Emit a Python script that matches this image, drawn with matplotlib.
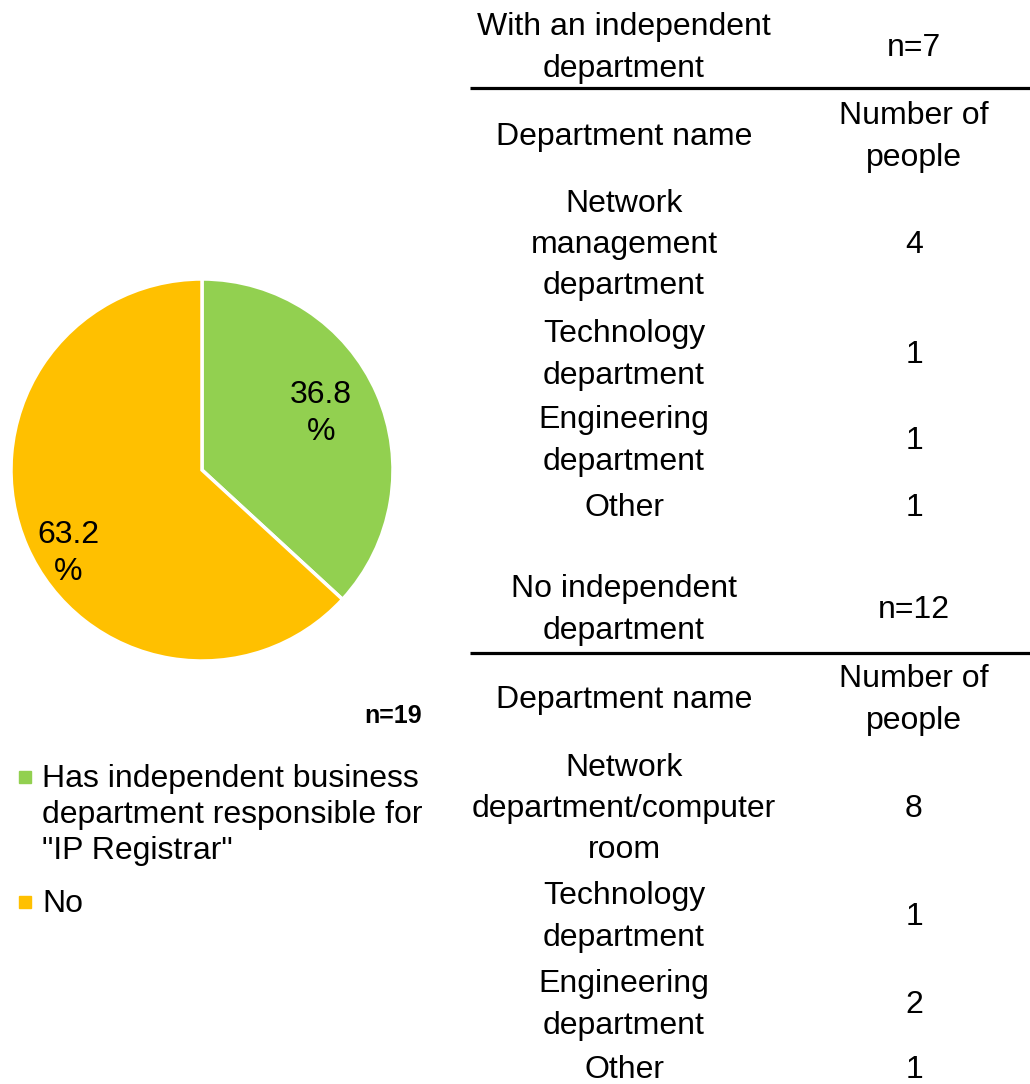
import matplotlib.pyplot as plt
import matplotlib

matplotlib.rcParams['font.family'] = ['Liberation Sans', 'DejaVu Sans']

# data
pie_labels = ['Has independent business\ndepartment responsible for\n"IP Registrar"', 'No']
pie_values = [7, 12]
pie_colors = ['#92D050', '#FFC000']

with_title = 'With an independent\ndepartment'
with_names = ['Network\nmanagement\ndepartment', 'Technology\ndepartment',
              'Engineering\ndepartment', 'Other']
with_counts = [4, 1, 1, 1]

no_title = 'No independent\ndepartment'
no_names = ['Network\ndepartment/computer\nroom', 'Technology\ndepartment',
            'Engineering\ndepartment', 'Other']
no_counts = [8, 1, 2, 1]

W, H = 1030, 1084
FS = 23
fig = plt.figure(figsize=(W / 100, H / 100), dpi=100)

# overlay axes in pixel coords for the table and legend
ax = fig.add_axes([0, 0, 1, 1])
ax.set_xlim(0, W)
ax.set_ylim(H, 0)
ax.axis('off')

# pie
cx, cy, r = 202, 470, 191
pax = fig.add_axes([(cx - r) / W, (H - cy - r) / H, 2 * r / W, 2 * r / H])
wedges, _, autotexts = pax.pie(pie_values, colors=pie_colors, startangle=90, counterclock=False,
                               autopct=lambda p: f'{p:.1f}\n%', pctdistance=0.7,
                               wedgeprops=dict(edgecolor='white', linewidth=2.5),
                               textprops=dict(fontsize=FS, linespacing=1.32))
pax.set_xlim(-1, 1)
pax.set_ylim(-1, 1)
x1, y1 = autotexts[0].get_position()
autotexts[0].set_position((x1 * 0.97, y1 * 1.05))
x2, y2 = autotexts[1].get_position()
autotexts[1].set_position((x2 * 1.09, y2 * 1.55))

ax.text(422, 716, f'n={sum(pie_values)}', fontsize=18, fontweight='bold', ha='right', va='center')

# legend (markers aligned to first line)
leg_y = [777, 902]
for lab, col, y in zip(pie_labels, pie_colors, leg_y):
    ax.plot([25], [y], marker='s', markersize=8.5, color=col, linestyle='none')
    ax.text(42, y - 13, lab, fontsize=FS, ha='left', va='top', linespacing=1.27)

col1, col2 = 624, 914
LS = 1.49


def draw_block(title, names, counts, y_title, y_line, y_head, y_rows):
    ax.text(col1, y_title, title, fontsize=FS, ha='center', va='center', linespacing=LS)
    ax.text(col2, y_title, f'n={sum(counts)}', fontsize=FS, ha='center', va='center')
    ax.plot([470, W], [y_line, y_line], color='black', linewidth=2.3, solid_capstyle='butt')
    ax.text(col1, y_head, 'Department name', fontsize=FS, ha='center', va='center')
    ax.text(col2, y_head, 'Number of\npeople', fontsize=FS, ha='center', va='center', linespacing=LS)
    for name, c, y in zip(names, counts, y_rows):
        ax.text(col1, y, name, fontsize=FS, ha='center', va='center', linespacing=LS)
        ax.text(col2, y, str(c), fontsize=FS, ha='center', va='center')


draw_block(with_title, with_names, with_counts, 48, 88, 137, [245, 355, 441, 508])
draw_block(no_title, no_names, no_counts, 610, 653, 700, [809, 917, 1005, 1070])

fig.savefig('out.png', dpi=100)
